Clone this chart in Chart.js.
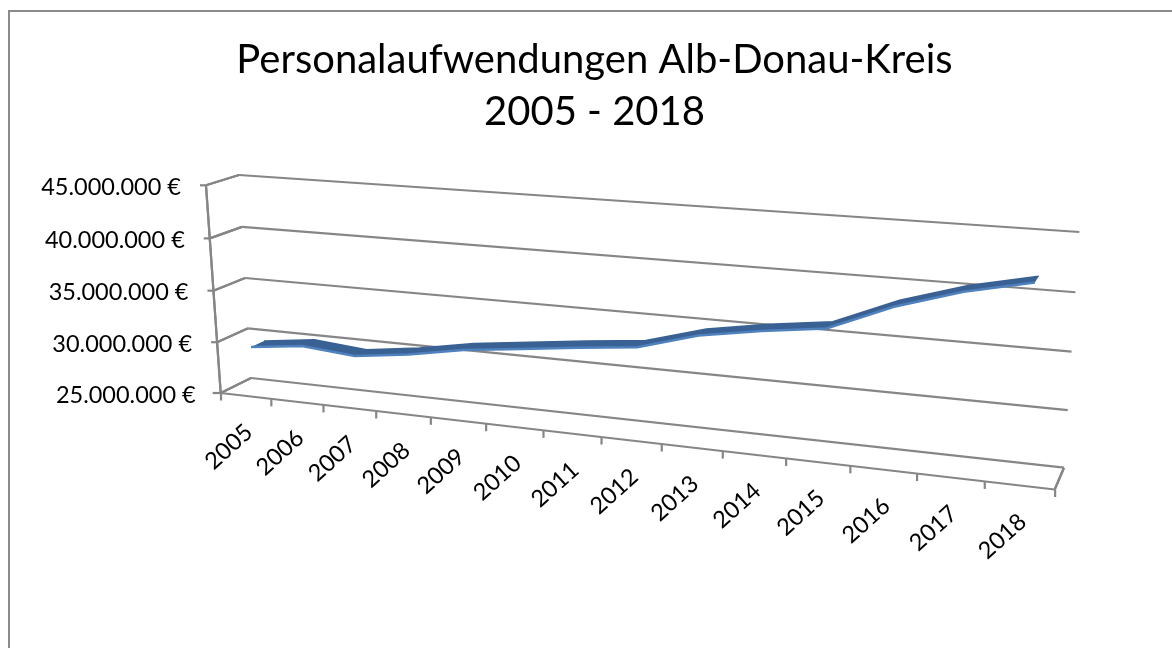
<!DOCTYPE html>
<html lang="de">
<head>
<meta charset="utf-8">
<title>Personalaufwendungen Alb-Donau-Kreis</title>
<script src="https://cdn.jsdelivr.net/npm/chart.js@4/dist/chart.umd.js"></script>
<style>
html,body{margin:0;padding:0;background:#fff;width:1172px;height:648px;overflow:hidden}
#frame{position:absolute;left:8px;top:10px;width:1300px;height:800px;border:2px solid #8a8a8a}
canvas{position:absolute;left:0;top:0}
</style>
</head>
<body>
<div id="frame"></div>
<canvas id="c" width="1172" height="648"></canvas>
<script>
const titleLines = ['Personalaufwendungen Alb-Donau-Kreis', '2005 - 2018'];
const years = ['2005','2006','2007','2008','2009','2010','2011','2012','2013','2014','2015','2016','2017','2018'];
const personnelCosts = [29420000,30030000,29590000,30270000,31210000,31830000,32470000,33030000,34580000,35490000,36210000,38540000,40260000,41480000];
const axisMin = 25000000;
const axisMax = 45000000;
const axisStep = 5000000;

// 3D view of the plot box: corners of its front and back planes on the page
const view = {
  front: {tl:[206,185.3], bl:[220.7,393], br:[1054.7,489.5], tr:[1072,245]},
  back:  {tl:[239,175],   bl:[251,378],   br:[1064,467.7],   tr:[1079.3,232]},
  ku: 0.19, kv: 0.03
};
const mix = (a,b,t) => a + (b-a)*t;
function project(u, v, d) {
  const w = u/(1+view.ku*(1-u)), h = v/(1+view.kv*(1-v));
  const onPlane = (p, i) => mix(mix(p.bl[i],p.br[i],w), mix(p.tl[i],p.tr[i],w), h);
  return [mix(onPlane(view.front,0),onPlane(view.back,0),d), mix(onPlane(view.front,1),onPlane(view.back,1),d)];
}
const uOf = (s, px) => (px - s.left)/s.width;
const vOf = (s, px) => (s.bottom - px)/s.height;

const perspective = {
  id: 'perspective',
  afterDatasetsUpdate(chart) {
    const xs = chart.scales.x, ys = chart.scales.y;
    chart.data.datasets.forEach((ds, k) => {
      chart.getDatasetMeta(k).data.forEach((pt, i) => {
        const [x,y] = project(uOf(xs, xs.getPixelForValue(i)), vOf(ys, ys.getPixelForValue(ds.data[i])), ds.depth);
        pt.x = x; pt.y = y;
      });
    });
  },
  beforeDraw(chart) {
    const xs = chart.scales.x, ys = chart.scales.y, area = chart.chartArea;
    const seg = (base, a, b, ta, tb) => Object.assign({}, base, {
      x1:a[0], y1:a[1], x2:b[0], y2:b[1], tx1:ta[0], ty1:ta[1], tx2:tb[0], ty2:tb[1]
    });
    // value axis: wall lines, side-wall connectors, tick marks, front edge
    const yItems = ys._computeGridLineItems(area), yOut = [];
    ys.ticks.forEach((t, i) => {
      const v = vOf(ys, ys.getPixelForTick(i));
      const f = project(0,v,0), b = project(0,v,1), r = project(1,v,1);
      yOut.push(seg(yItems[i], b, r, [f[0]-(i===0?8:6), f[1]], f));
      yOut.push(seg(yItems[i], f, b, f, b));
    });
    const p00 = project(0,0,0), p01 = project(0,1,0), pb = project(1,0,1), pf = project(1,0,0);
    yOut.push(seg(yItems[0], p00, p01, p00, p01));
    yOut.push(seg(yItems[0], pb, pf, pb, pf));
    ys._gridLineItems = yOut;
    // category axis: front edge of the floor and its tick marks
    const xItems = xs._computeGridLineItems(area);
    const xOut = xItems.map(it => {
      const a = project(uOf(xs, it.tx1), 0, 0);
      return seg(it, a, a, a, [a[0], a[1]+7.5]);
    });
    xOut.push(seg(xItems[0], p00, pf, p00, pf));
    xs._gridLineItems = xOut;
    // tick labels follow the slanted edges
    ys.getLabelItems().forEach((it, i) => {
      const f = project(0, vOf(ys, ys.getPixelForTick(i)), 0);
      Object.assign(it.options, {translation:[f[0]-25, f[1]+2], textAlign:'right', textBaseline:'middle'});
      it.textOffset = 0;
    });
    xs.getLabelItems().forEach((it, i) => {
      const f = project(uOf(xs, xs.getPixelForTick(i)), 0, 0);
      Object.assign(it.options, {translation:[f[0]-17, f[1]+51], textAlign:'center', textBaseline:'middle', rotation:-42*Math.PI/180});
      it.textOffset = 0;
    });
  },
  beforeDatasetsDraw(chart) {
    // top face of the 3D line, spanned between its two edges
    const front = chart.getDatasetMeta(1).data, back = chart.getDatasetMeta(0).data, ctx = chart.ctx;
    ctx.save();
    ctx.beginPath();
    front.forEach((p,i) => i ? ctx.lineTo(p.x,p.y) : ctx.moveTo(p.x,p.y));
    [...back].reverse().forEach(p => ctx.lineTo(p.x,p.y));
    ctx.closePath();
    ctx.fillStyle = '#3a6194';
    ctx.fill();
    ctx.restore();
  }
};

new Chart(document.getElementById('c'), {
  type: 'line',
  plugins: [perspective],
  data: {
    labels: years,
    datasets: [
      {label:'Personalaufwendungen', data:personnelCosts, depth:0.7, borderColor:'#3a6194', borderWidth:1.5, pointRadius:0, tension:0, clip:false, order:1},
      {label:'Personalaufwendungen', data:personnelCosts, depth:0.27, borderColor:'#4f81bd', borderWidth:2.5, pointRadius:0, tension:0, clip:false, order:0}
    ]
  },
  options: {
    responsive: false,
    animation: false,
    events: [],
    layout: {padding:{left:17, top:34}},
    plugins: {
      legend: {display:false},
      tooltip: {enabled:false},
      title: {display:true, text:titleLines, color:'#000', font:{family:'Lato', size:40, weight:'400', lineHeight:1.3}, padding:{top:0,bottom:10}}
    },
    scales: {
      x: {
        type:'category', offset:true,
        border:{display:false},
        grid:{offset:true, drawOnChartArea:false, drawTicks:true, tickLength:8, tickColor:'#868686', tickWidth:2.2, color:'#868686'},
        ticks:{mirror:true, autoSkip:false, maxRotation:42, minRotation:42, color:'#000', font:{family:'Lato', size:23.5}}
      },
      y: {
        min:axisMin, max:axisMax,
        border:{display:false},
        grid:{color:'#868686', lineWidth:2.2, tickColor:'#868686', tickWidth:2.2},
        ticks:{mirror:true, stepSize:axisStep, color:'#000', font:{family:'Lato', size:23.5},
          callback:v => v.toLocaleString('de-DE') + ' €'}
      }
    }
  }
});
</script>
</body>
</html>
